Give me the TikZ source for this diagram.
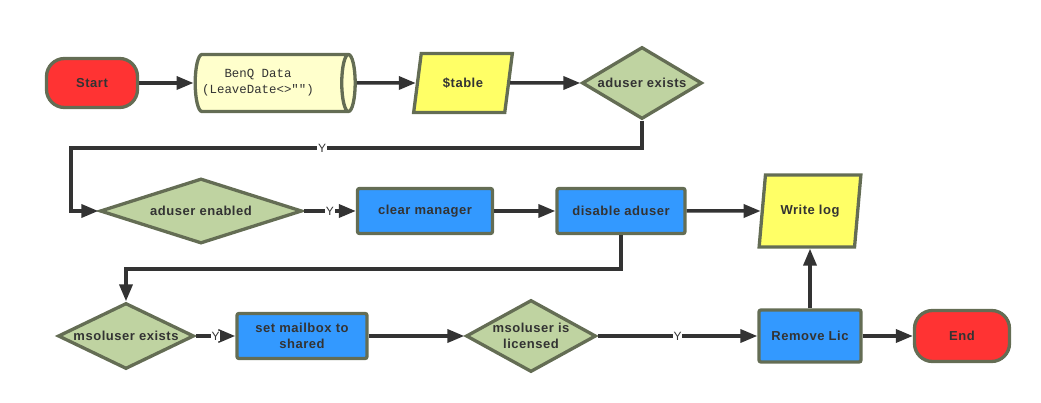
\documentclass[tikz,border=0pt]{standalone}
\usepackage{fontspec}
\setmainfont{Liberation Sans}
\setmonofont{Liberation Mono}
\newfontfamily\boxfont{Liberation Sans}[LetterSpace=4]
\usetikzlibrary{shapes.geometric,arrows.meta}
\definecolor{rim}{HTML}{646D54}
\definecolor{linec}{HTML}{333333}
\definecolor{txt}{HTML}{333333}
\definecolor{startred}{HTML}{FF3333}
\definecolor{ioyellow}{HTML}{FFFF66}
\definecolor{storecream}{HTML}{FFFFCC}
\definecolor{askgreen}{HTML}{BFD3A1}
\definecolor{stepblue}{HTML}{3399FF}

\begin{document}
\begin{tikzpicture}[x=1pt,y=-1pt,>={Triangle[length=17pt,width=13pt]}]
  \tikzstyle{every node}=[text=txt,font=\boxfont\bfseries\fontsize{13}{15.5}\selectfont,align=center]
  \tikzstyle{box}=[draw=rim,line width=3.3pt,inner sep=0pt]
  \tikzstyle{terminal}=[box,rectangle,rounded corners=18pt,fill=startred,minimum width=91,minimum height=49]
  \tikzstyle{store}=[box,cylinder,aspect=0.5,fill=storecream,minimum width=57,minimum height=160,
                     font=\ttfamily\fontsize{12.4}{16}\selectfont]
  \tikzstyle{io}=[box,trapezium,trapezium left angle=71,trapezium right angle=109,trapezium stretches=true,
                  fill=ioyellow,minimum width=99,minimum height=59]
  \tikzstyle{decision}=[box,diamond,fill=askgreen]
  \tikzstyle{process}=[box,rectangle,rounded corners=2pt,fill=stepblue,minimum width=130,minimum height=45]
  \tikzstyle{flow}=[->,color=linec,line width=3.5pt]
  \tikzstyle{ylab}=[fill=white,inner sep=0.8pt,font=\fontsize{12}{14}\selectfont]

  \useasboundingbox (0,0) rectangle (1041,403);

  \node[terminal] (start)    at (92,83)   {Start};
  \node[store]    (benq)     at (271,83)  {BenQ Data\hspace*{26pt}\\(LeaveDate<>"")\hspace*{26pt}};
  \node[io]       (tbl)      at (463,83)  {\$table};
  \node[decision,aspect=1.67,minimum width=120,minimum height=72] (exists) at (642,83) {aduser exists};

  \node[decision,aspect=3.1,minimum width=202,minimum height=65] (enabled) at (201,211) {aduser enabled};
  \node[process,minimum width=135] (clear)   at (425,211) {clear manager};
  \node[process,minimum width=128] (disable) at (621,211) {disable aduser};
  \node[io,minimum width=102,minimum height=72] (writelog) at (810,211) {Write log};

  \node[decision,aspect=2.06,minimum width=136,minimum height=66] (msexists) at (126,336) {msoluser exists};
  \node[process]  (mailbox)  at (302,336) {set mailbox to\\shared};
  \node[decision,aspect=1.8,minimum width=130,minimum height=72] (licensed) at (531,336) {msoluser is\\licensed};
  \node[process,minimum width=102,minimum height=52] (remove) at (810,336) {Remove Lic};
  \node[terminal,minimum width=95,minimum height=51] (end) at (962,336) {End};

  \coordinate (b1) at (71,148);
  \coordinate (b2) at (msexists.north |- 0,269);

  \path[flow]
(start) edge (benq)
(benq) edge (tbl)
(tbl) edge (exists)
(enabled) edge node[ylab] {Y} (clear)
(clear) edge (disable)
(disable) edge (writelog)
(msexists) edge node[ylab] {Y} (mailbox)
(mailbox) edge (licensed)
(licensed) edge node[ylab] {Y} (remove)
(remove) edge (writelog)
(remove) edge (end);

  \draw[flow] (exists.south) |- node[ylab,pos=0.78] {Y} (b1) |- (enabled.west);
  \draw[flow] (disable.south) |- (b2) -- (msexists.north);
\end{tikzpicture}
\end{document}
